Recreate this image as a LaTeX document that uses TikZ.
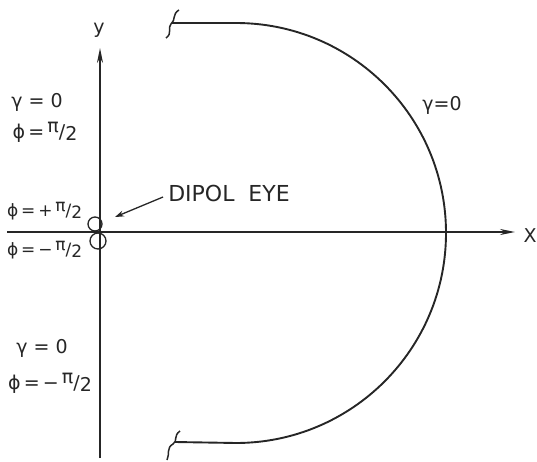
\documentclass[tikz,border=0pt]{standalone}
\usepackage{fontspec}
\setmainfont{DejaVu Sans}
\usetikzlibrary{arrows.meta}

\newcommand{\halfpi}{\raisebox{0.3em}{π}/\raisebox{-0.12em}{2}}

\begin{document}
\begin{tikzpicture}[
    x=1pt,y=-1pt,
    axis/.style={-{Stealth[length=15pt,width=6pt]},line width=1.7pt,draw=black!85},
    curve/.style={line width=1.9pt,draw=black!85},
    lbl/.style={font=\fontsize{19}{21}\selectfont,text=black!85,inner sep=0pt},
    small/.style={font=\fontsize{17}{19}\selectfont},
    pointer/.style={-{Stealth[length=9pt,width=6pt]},line width=1.3pt,draw=black!85}
  ]
    \useasboundingbox (0,0) rectangle (537,462);
    % axes
    \coordinate (ybot) at (100,458);
    \coordinate (ytop) at (100,48);
    \coordinate (xleft) at (7,232);
    \coordinate (xright) at (515,232);
    \draw[axis] (ybot) -- (ytop);
    \draw[axis] (xleft) -- (xright);
    \node[lbl] (ylab) at (99,30) {y};
    \node[lbl] (xlab) at (530,236) {X};
    % boundary gamma = 0
    \coordinate (ctop) at (236,23);
    \coordinate (cbot) at (236,443);
    \draw[curve] (172,23) -- (ctop) arc[start angle=-90,end angle=90,radius=210] -- (175,442);
    \draw[curve,line width=1.5pt] (179,10) .. controls (172,14) and (176,20) .. (171,24)
        .. controls (167,28) and (173,33) .. (166,38);
    \draw[curve,line width=1.5pt] (180,431) .. controls (173,436) and (178,441) .. (173,444)
        .. controls (166,448) and (170,454) .. (167,460);
    % dipole eye
    \coordinate (eye) at (115,217);
    \draw[curve,line width=1.3pt] (95,224) circle[radius=7];
    \draw[curve,line width=1.3pt] (98,241) circle[radius=8];
    \node[lbl,font=\fontsize{22}{24}\selectfont] (eyelab) at (229,193) {DIPOL\ \ EYE};
    \draw[pointer] (eyelab.west) ++(-5,4) -- (eye);
    % labels
    \node[lbl] (g1) at (37,102) {γ = 0};
    \node[lbl] (p1) at (45,132) {ϕ\,=\,\halfpi};
    \node[lbl,small,anchor=west] (p2) at (7,211) {ϕ\,=\,+\,\halfpi};
    \node[lbl,small,anchor=west] (p3) at (7,250) {ϕ\,=\,−\,\halfpi};
    \node[lbl] (g2) at (42,348) {γ = 0};
    \node[lbl] (p4) at (50,383) {ϕ\,=\,−\,\halfpi};
    \node[lbl] (g3) at (442,105) {γ=0};
\end{tikzpicture}
\end{document}
